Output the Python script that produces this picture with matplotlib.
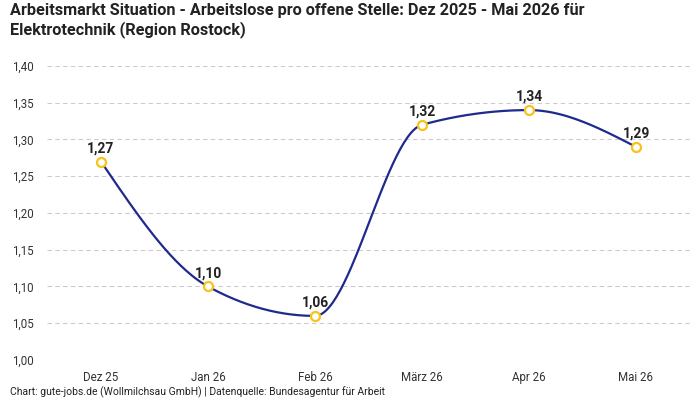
import numpy as np
import matplotlib
matplotlib.use("Agg")
import matplotlib.pyplot as plt

plt.rcParams['font.family'] = ['Roboto', 'DejaVu Sans']

categories = ["Dez 25", "Jan 26", "Feb 26", "März 26", "Apr 26", "Mai 26"]
values = [1.27, 1.10, 1.06, 1.32, 1.34, 1.29]
yticks = [1.00, 1.05, 1.10, 1.15, 1.20, 1.25, 1.30, 1.35, 1.40]

def monotone_x(xs, ys, n=60):
    xs = np.asarray(xs, float); ys = np.asarray(ys, float)
    m = len(xs)
    h = np.diff(xs); s = np.diff(ys) / h
    t = np.zeros(m)
    for i in range(1, m - 1):
        h0, h1, s0, s1 = h[i-1], h[i], s[i-1], s[i]
        p = (s0 * h1 + s1 * h0) / (h0 + h1)
        t[i] = (np.sign(s0) + np.sign(s1)) * min(abs(s0), abs(s1), 0.5 * abs(p))
    t[0] = (3 * s[0] - t[1]) / 2
    t[-1] = (3 * s[-1] - t[-2]) / 2
    X, Y = [], []
    for i in range(m - 1):
        u = np.linspace(0, 1, n)
        dx = h[i]
        h00 = 2*u**3 - 3*u**2 + 1
        h10 = u**3 - 2*u**2 + u
        h01 = -2*u**3 + 3*u**2
        h11 = u**3 - u**2
        X.append(xs[i] + u * dx)
        Y.append(h00*ys[i] + h10*dx*t[i] + h01*ys[i+1] + h11*dx*t[i+1])
    return np.concatenate(X), np.concatenate(Y)

fig = plt.figure(figsize=(7, 4), dpi=100)
ax = fig.add_axes([47.5/700, 1 - 360/400, 642/700, 294/400])
x = np.arange(len(categories))
cx, cy = monotone_x(x, values)
ax.plot(cx, cy, color='#1f2a8c', lw=1.6, zorder=3, clip_on=False)
ax.plot(x, values, 'o', ms=6.5, mfc='white', mec='#f7c21b', mew=1.6, zorder=4, clip_on=False)
for xi, v in zip(x, values):
    ax.annotate(f"{v:.2f}".replace('.', ','), (xi, v), xytext=(0, 4.5), textcoords='offset points',
                ha='center', va='bottom', fontsize=10, fontweight='bold', color='#222222')

ax.set_xlim(-0.5, len(categories) - 0.5)
ax.set_ylim(1.0, 1.4)
ax.set_yticks(yticks)
ax.set_yticklabels([f"{v:.2f}".replace('.', ',') for v in yticks])
ax.set_xticks(x)
ax.set_xticklabels(categories)
ax.tick_params(axis='both', length=0, labelsize=8.3, colors='#333333')
ax.tick_params(axis='x', pad=8)
ax.tick_params(axis='y', pad=10)
for sp in ax.spines.values():
    sp.set_visible(False)
ax.grid(axis='y', color='#cccccc', linestyle=(0, (4, 3)), lw=0.8)
ax.set_axisbelow(True)

fig.text(10/700, 1 - 3/400, "Arbeitsmarkt Situation - Arbeitslose pro offene Stelle: Dez 2025 - Mai 2026 für\nElektrotechnik (Region Rostock)",
         ha='left', va='top', fontsize=11.7, fontweight='bold', color='#222222', linespacing=1.25)
fig.text(10/700, 1 - 398/400, "Chart: gute-jobs.de (Wollmilchsau GmbH) | Datenquelle: Bundesagentur für Arbeit",
         ha='left', va='bottom', fontsize=7.5, color='#222222')

fig.savefig("out.png", dpi=100)
